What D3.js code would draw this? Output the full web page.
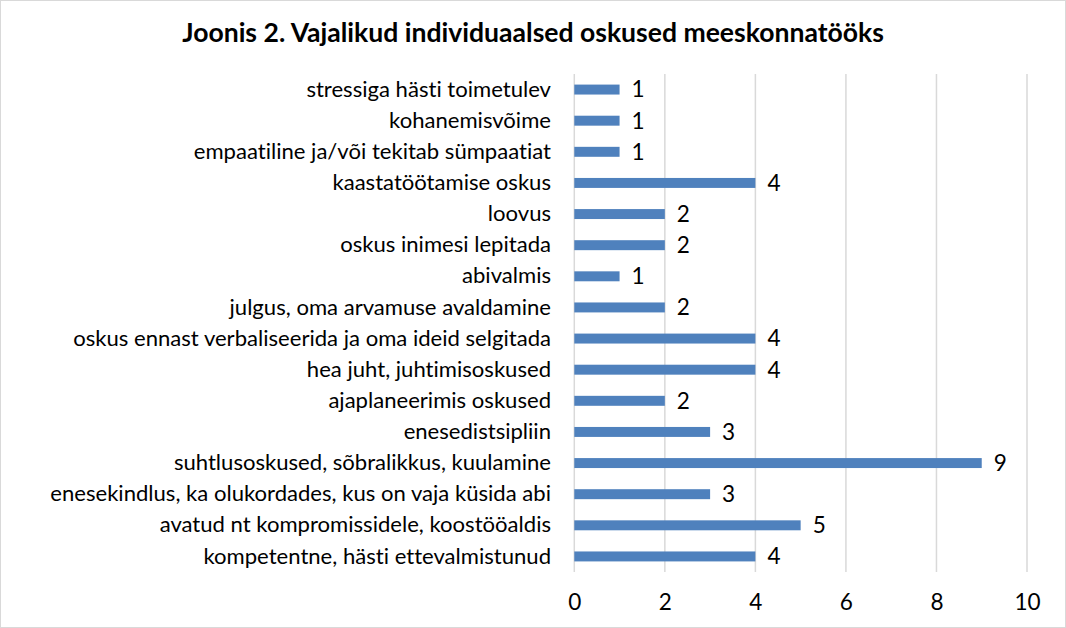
<!DOCTYPE html>
<html><head><meta charset="utf-8">
<script src="https://cdn.jsdelivr.net/npm/d3@7"></script>
<style>body{margin:0;background:#fff}svg{display:block}text{font-variant-ligatures:none;font-feature-settings:"liga" 0,"clig" 0}</style>
</head><body>
<svg id="c" width="1066" height="628"></svg>
<script>
const categories = [
  "stressiga hästi toimetulev",
  "kohanemisvõime",
  "empaatiline ja/või tekitab sümpaatiat",
  "kaastatöötamise oskus",
  "loovus",
  "oskus inimesi lepitada",
  "abivalmis",
  "julgus, oma arvamuse avaldamine",
  "oskus ennast verbaliseerida ja oma ideid selgitada",
  "hea juht, juhtimisoskused",
  "ajaplaneerimis oskused",
  "enesedistsipliin",
  "suhtlusoskused, sõbralikkus, kuulamine",
  "enesekindlus, ka olukordades, kus on vaja küsida abi",
  "avatud nt kompromissidele, koostööaldis",
  "kompetentne, hästi ettevalmistunud"
];
const values = [1,1,1,4,2,2,1,2,4,4,2,3,9,3,5,4];
const xTicks = [0,2,4,6,8,10];
const title = "Joonis 2. Vajalikud individuaalsed oskused meeskonnatööks";

(function(){
const FONT = "Lato, 'Open Sans', sans-serif";
const svg = d3.select("#c");
svg.append("rect").attr("x",0.5).attr("y",0.5).attr("width",1065).attr("height",627)
  .attr("fill","#fff").attr("stroke","#d9d9d9");

const pL = 574.3, pR = 1027, pT = 74, pB = 572;
const x = d3.scaleLinear().domain([0,10]).range([pL,pR]);
const y = d3.scaleBand().domain(categories).range([pT,pB]).paddingInner(0.68).paddingOuter(0.34);

function fit(sel, target){
  const w = sel.node().getComputedTextLength();
  const fs = parseFloat(sel.attr("font-size"));
  return fs*target/w;
}

const t = svg.append("text").attr("x",533).attr("y",42).attr("text-anchor","middle")
  .attr("font-family",FONT).attr("font-weight","bold").attr("font-size",20).attr("fill","#000").text(title);
t.attr("font-size", fit(t,702));

svg.append("g").selectAll("line").data(xTicks).join("line")
  .attr("x1",d=>x(d)).attr("x2",d=>x(d)).attr("y1",pT).attr("y2",pB)
  .attr("stroke","#d9d9d9").attr("stroke-width",1.5);

const probe = svg.append("text").attr("font-family",FONT).attr("font-size",17).text(categories[13]);
const lfs = fit(probe,501);
probe.remove();

const ax = svg.append("g").attr("transform",`translate(0,${pB})`)
  .call(d3.axisBottom(x).tickValues(xTicks).tickSize(0).tickPadding(22));
ax.select(".domain").remove();
ax.selectAll("text").attr("font-family",FONT).attr("font-size",lfs+0.5).attr("fill","#000");

const ay = svg.append("g").attr("transform",`translate(551,0)`)
  .call(d3.axisLeft(y).tickSize(0).tickPadding(0));
ay.select(".domain").remove();
ay.selectAll("text").attr("font-family",FONT).attr("font-size",lfs).attr("fill","#000");

svg.append("g").selectAll("rect").data(values).join("rect")
  .attr("x",x(0)).attr("y",(d,i)=>y(categories[i]))
  .attr("width",d=>x(d)-x(0)).attr("height",y.bandwidth()).attr("fill","#4f81bd");

svg.append("g").selectAll("text").data(values).join("text")
  .attr("x",d=>x(d)+12).attr("y",(d,i)=>y(categories[i])+y.bandwidth()/2)
  .attr("dy","0.35em").attr("font-family",FONT).attr("font-size",lfs+0.5).attr("fill","#000").text(d=>d);
})();
</script>
</body></html>
